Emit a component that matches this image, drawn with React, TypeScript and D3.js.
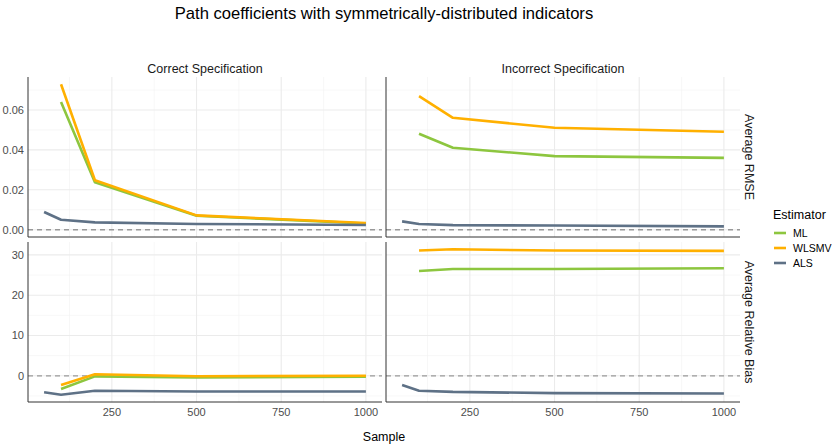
import React from "react";
import * as d3 from "d3";

const samples = [50, 100, 200, 500, 1000];
const estimators = ["ML", "WLSMV", "ALS"];
const colors = ["#8DC63F", "#FFB000", "#5E7186"];
const specs = ["Correct Specification", "Incorrect Specification"];
const metrics = ["Average RMSE", "Average Relative Bias"];

// values per sample (null = missing)
const rmseCorrectML = [null, 0.064, 0.0238, 0.007, 0.0031];
const rmseCorrectWLSMV = [null, 0.0729, 0.0248, 0.0072, 0.0034];
const rmseCorrectALS = [0.0089, 0.005, 0.0037, 0.0029, 0.0024];
const rmseIncorrectML = [null, 0.0481, 0.0411, 0.0369, 0.036];
const rmseIncorrectWLSMV = [null, 0.067, 0.0561, 0.0511, 0.0491];
const rmseIncorrectALS = [0.0042, 0.0029, 0.0023, 0.0021, 0.0017];
const biasCorrectML = [null, -3.3, -0.15, -0.4, -0.2];
const biasCorrectWLSMV = [null, -2.3, 0.4, -0.1, 0.0];
const biasCorrectALS = [-4.1, -4.7, -3.7, -3.9, -3.9];
const biasIncorrectML = [null, 26.0, 26.5, 26.5, 26.7];
const biasIncorrectWLSMV = [null, 31.1, 31.4, 31.1, 31.0];
const biasIncorrectALS = [-2.3, -3.7, -4.0, -4.3, -4.4];

const xTicks = [250, 500, 750, 1000];
const xMinor = [125, 375, 625, 875];
const rmseTicks = [0, 0.02, 0.04, 0.06];
const rmseMinor = [0.01, 0.03, 0.05, 0.07];
const biasTicks = [0, 10, 20, 30];
const biasMinor = [-5, 5, 15, 25];

const panelData = [
  [
    [rmseCorrectML, rmseCorrectWLSMV, rmseCorrectALS],
    [rmseIncorrectML, rmseIncorrectWLSMV, rmseIncorrectALS],
  ],
  [
    [biasCorrectML, biasCorrectWLSMV, biasCorrectALS],
    [biasIncorrectML, biasIncorrectWLSMV, biasIncorrectALS],
  ],
];

const W = 836;
const H = 448;
const colX = [
  [28, 382],
  [386, 740],
];
const rowY = [
  [77, 237],
  [242, 402],
];
const font = "Liberation Sans, Arial, Helvetica, sans-serif";

function expand(lo: number, hi: number): [number, number] {
  const e = (hi - lo) * 0.05;
  return [lo - e, hi + e];
}

export default function App() {
  const xDomain = expand(d3.min(samples)!, d3.max(samples)!);
  const rowScales = panelData.map((row, ri) => {
    const all: number[] = [0];
    row.forEach((p) => p.forEach((s) => s.forEach((v) => v != null && all.push(v as number))));
    const dom = expand(d3.min(all)!, d3.max(all)!);
    return d3.scaleLinear().domain(dom).range([rowY[ri][1], rowY[ri][0]]);
  });
  const rowTicks = [rmseTicks, biasTicks];
  const rowMinor = [rmseMinor, biasMinor];
  const rowFmt = [d3.format(".2f"), d3.format("d")];

  return (
    <svg width={W} height={H} style={{ position: "absolute", left: 0, top: 0 }} fontFamily={font}>
      <rect width={W} height={H} fill="#fff" />
      <text x={384} y={19} textAnchor="middle" fontSize={16.6} fill="#000">
        Path coefficients with symmetrically-distributed indicators
      </text>
      {specs.map((s, ci) => (
        <text key={s} x={(colX[ci][0] + colX[ci][1]) / 2} y={73} textAnchor="middle" fontSize={12.5} fill="#1a1a1a">
          {s}
        </text>
      ))}
      {metrics.map((m, ri) => {
        const cy = (rowY[ri][0] + rowY[ri][1]) / 2;
        return (
          <text key={m} x={0} y={0} transform={`translate(749,${cy}) rotate(90)`} textAnchor="middle" dominantBaseline="central" fontSize={12.5} fill="#1a1a1a">
            {m}
          </text>
        );
      })}
      {panelData.map((row, ri) =>
        row.map((panel, ci) => {
          const x = d3.scaleLinear().domain(xDomain).range(colX[ci]);
          const y = rowScales[ri];
          const line = d3
            .line<number | null>()
            .defined((d) => d != null)
            .x((_, i) => x(samples[i]))
            .y((d) => y(d as number));
          return (
            <g key={`${ri}-${ci}`}>
              {xMinor.map((t) => (
                <line key={"xm" + t} x1={x(t)} x2={x(t)} y1={rowY[ri][0]} y2={rowY[ri][1]} stroke="#f2f2f2" strokeWidth={0.6} />
              ))}
              {rowMinor[ri].map((t) => (
                <line key={"ym" + t} x1={colX[ci][0]} x2={colX[ci][1]} y1={y(t)} y2={y(t)} stroke="#f2f2f2" strokeWidth={0.6} />
              ))}
              {xTicks.map((t) => (
                <line key={"x" + t} x1={x(t)} x2={x(t)} y1={rowY[ri][0]} y2={rowY[ri][1]} stroke="#ebebeb" strokeWidth={1.1} />
              ))}
              {rowTicks[ri].map((t) => (
                <line key={"y" + t} x1={colX[ci][0]} x2={colX[ci][1]} y1={y(t)} y2={y(t)} stroke="#ebebeb" strokeWidth={1.1} />
              ))}
              <line x1={colX[ci][0]} x2={colX[ci][1]} y1={y(0)} y2={y(0)} stroke="#999" strokeWidth={1.3} strokeDasharray="5,4" />
              {panel.map((s, si) => (
                <path key={si} d={line(s) || ""} fill="none" stroke={colors[si]} strokeWidth={2.6} strokeLinejoin="round" />
              ))}
              <line x1={colX[ci][0]} x2={colX[ci][0]} y1={rowY[ri][0]} y2={rowY[ri][1]} stroke="#333" strokeWidth={1} />
              <line x1={colX[ci][0]} x2={colX[ci][1]} y1={rowY[ri][1]} y2={rowY[ri][1]} stroke="#333" strokeWidth={1} />
              {ci === 0 &&
                rowTicks[ri].map((t) => (
                  <text key={"yl" + t} x={colX[0][0] - 4} y={y(t)} textAnchor="end" dominantBaseline="central" fontSize={11} fill="#4d4d4d">
                    {rowFmt[ri](t)}
                  </text>
                ))}
              {ri === 1 &&
                xTicks.map((t) => (
                  <text key={"xl" + t} x={x(t)} y={412} textAnchor="middle" dominantBaseline="central" fontSize={11} fill="#4d4d4d">
                    {t}
                  </text>
                ))}
            </g>
          );
        })
      )}
      <text x={384} y={441} textAnchor="middle" fontSize={12.5} fill="#000">
        Sample
      </text>
      <text x={773} y={219} fontSize={12.5} fill="#000">
        Estimator
      </text>
      {estimators.map((e, i) => (
        <g key={e}>
          <line x1={774} x2={786} y1={233 + i * 15} y2={233 + i * 15} stroke={colors[i]} strokeWidth={2.6} />
          <text x={793} y={233 + i * 15} dominantBaseline="central" fontSize={10.5} fill="#000">
            {e}
          </text>
        </g>
      ))}
    </svg>
  );
}
